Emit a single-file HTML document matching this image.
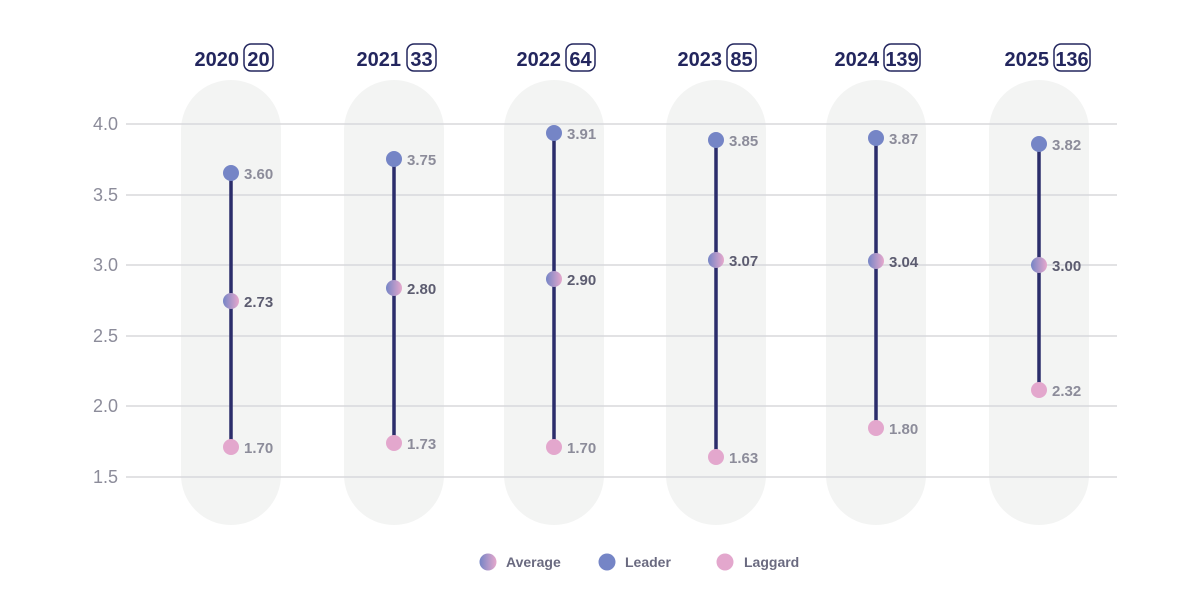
<!DOCTYPE html>
<html><head><meta charset="utf-8"><style>
html,body{margin:0;padding:0;background:#fff;}
svg{display:block;font-family:"Liberation Sans",sans-serif;}
</style></head><body>
<svg width="1200" height="608" viewBox="0 0 1200 608" xmlns="http://www.w3.org/2000/svg">
<defs>
<linearGradient id="avg" x1="0" x2="1" y1="0" y2="0"><stop offset="0" stop-color="#7585c6"/><stop offset="1" stop-color="#e6a8cc"/></linearGradient>
</defs>
<g fill="#f3f4f3">
<rect x="181" y="80" width="100" height="445" rx="50"/>
<rect x="344" y="80" width="100" height="445" rx="50"/>
<rect x="504" y="80" width="100" height="445" rx="50"/>
<rect x="666" y="80" width="100" height="445" rx="50"/>
<rect x="826" y="80" width="100" height="445" rx="50"/>
<rect x="989" y="80" width="100" height="445" rx="50"/>
</g>
<g stroke="#d8d8dc" stroke-width="1.5">
<line x1="126" x2="1117" y1="124" y2="124"/>
<line x1="126" x2="1117" y1="195" y2="195"/>
<line x1="126" x2="1117" y1="265" y2="265"/>
<line x1="126" x2="1117" y1="336" y2="336"/>
<line x1="126" x2="1117" y1="406" y2="406"/>
<line x1="126" x2="1117" y1="477" y2="477"/>
</g>
<g fill="#8c8c9a" font-size="18" text-anchor="end">
<text x="118" y="130">4.0</text><text x="118" y="201">3.5</text><text x="118" y="271">3.0</text>
<text x="118" y="342">2.5</text><text x="118" y="412">2.0</text><text x="118" y="483">1.5</text>
</g>
<g font-size="20" font-weight="bold" fill="#23265e">
<text x="239" y="66" text-anchor="end">2020</text><rect x="244" y="44" width="29" height="27" rx="7" fill="none" stroke="#23265e" stroke-width="1.5"/><text x="258.5" y="66" text-anchor="middle">20</text>
<text x="401" y="66" text-anchor="end">2021</text><rect x="407" y="44" width="29" height="27" rx="7" fill="none" stroke="#23265e" stroke-width="1.5"/><text x="421.5" y="66" text-anchor="middle">33</text>
<text x="561" y="66" text-anchor="end">2022</text><rect x="566" y="44" width="29" height="27" rx="7" fill="none" stroke="#23265e" stroke-width="1.5"/><text x="580.5" y="66" text-anchor="middle">64</text>
<text x="722" y="66" text-anchor="end">2023</text><rect x="727" y="44" width="29" height="27" rx="7" fill="none" stroke="#23265e" stroke-width="1.5"/><text x="741.5" y="66" text-anchor="middle">85</text>
<text x="879" y="66" text-anchor="end">2024</text><rect x="884" y="44" width="36" height="27" rx="7" fill="none" stroke="#23265e" stroke-width="1.5"/><text x="902" y="66" text-anchor="middle">139</text>
<text x="1049" y="66" text-anchor="end">2025</text><rect x="1054" y="44" width="36" height="27" rx="7" fill="none" stroke="#23265e" stroke-width="1.5"/><text x="1072" y="66" text-anchor="middle">136</text>
</g>
<g stroke="#2b2d6b" stroke-width="3.5">
<line x1="231" x2="231" y1="173" y2="447"/>
<line x1="394" x2="394" y1="159" y2="443"/>
<line x1="554" x2="554" y1="133" y2="447"/>
<line x1="716" x2="716" y1="140" y2="457"/>
<line x1="876" x2="876" y1="138" y2="428"/>
<line x1="1039" x2="1039" y1="144" y2="390"/>
</g>
<g fill="#7585c6">
<circle cx="231" cy="173" r="8"/><circle cx="394" cy="159" r="8"/><circle cx="554" cy="133" r="8"/>
<circle cx="716" cy="140" r="8"/><circle cx="876" cy="138" r="8"/><circle cx="1039" cy="144" r="8"/>
</g>
<g fill="#e3a7cd">
<circle cx="231" cy="447" r="8"/><circle cx="394" cy="443" r="8"/><circle cx="554" cy="447" r="8"/>
<circle cx="716" cy="457" r="8"/><circle cx="876" cy="428" r="8"/><circle cx="1039" cy="390" r="8"/>
</g>
<g fill="url(#avg)">
<circle cx="231" cy="301" r="8"/><circle cx="394" cy="288" r="8"/><circle cx="554" cy="279" r="8"/>
<circle cx="716" cy="260" r="8"/><circle cx="876" cy="261" r="8"/><circle cx="1039" cy="265" r="8"/>
</g>
<g fill="#8c8c9a" font-size="15" font-weight="bold">
<text x="244" y="179">3.60</text><text x="407" y="165">3.75</text><text x="567" y="139">3.91</text>
<text x="729" y="146">3.85</text><text x="889" y="144">3.87</text><text x="1052" y="150">3.82</text>
<text x="244" y="453">1.70</text><text x="407" y="449">1.73</text><text x="567" y="453">1.70</text>
<text x="729" y="463">1.63</text><text x="889" y="434">1.80</text><text x="1052" y="396">2.32</text>
</g>
<g fill="#5c5c70" font-size="15" font-weight="bold">
<text x="244" y="307">2.73</text><text x="407" y="294">2.80</text><text x="567" y="285">2.90</text>
<text x="729" y="266">3.07</text><text x="889" y="267">3.04</text><text x="1052" y="271">3.00</text>
</g>
<circle cx="488" cy="562" r="8.5" fill="url(#avg)"/>
<circle cx="607" cy="562" r="8.5" fill="#7585c6"/>
<circle cx="725" cy="562" r="8.5" fill="#e3a7cd"/>
<g fill="#6a6a80" font-size="14" font-weight="bold">
<text x="506" y="567">Average</text><text x="625" y="567">Leader</text><text x="744" y="567">Laggard</text>
</g>
</svg>
</body></html>
